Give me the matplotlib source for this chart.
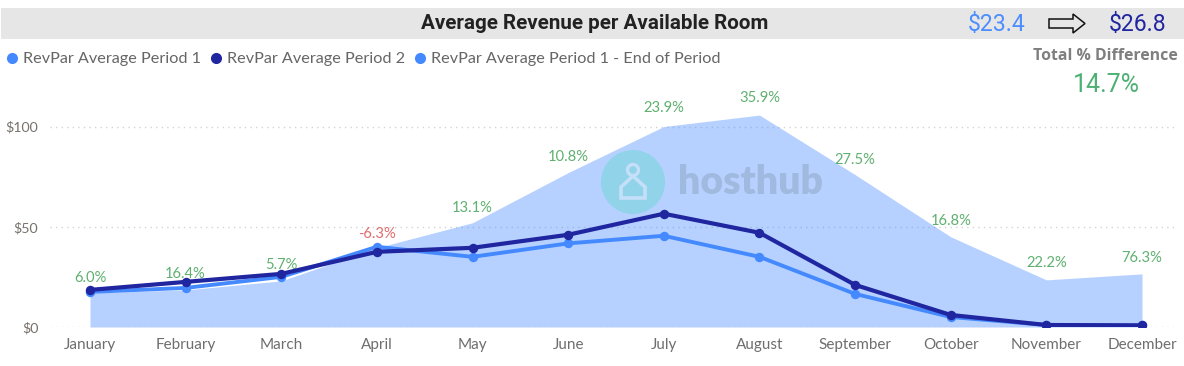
import matplotlib
matplotlib.use("Agg")
import matplotlib.pyplot as plt
from matplotlib.lines import Line2D
from matplotlib.patches import Rectangle, Circle, Polygon

months = ["January", "February", "March", "April", "May", "June", "July",
          "August", "September", "October", "November", "December"]
area_values = [17, 18.5, 23, 39.5, 52, 77, 100, 105.7, 76, 45, 23.5, 26.5]
period1 = [17.5, 19.5, 25, 40, 35, 41.7, 45.5, 35, 16.5, 5, 1, 0.8]
period2 = [18.5, 22.5, 26.5, 37.5, 39.5, 46, 56.5, 47, 21, 6, 1, 0.8]
pct_labels = ["6.0%", "16.4%", "5.7%", "-6.3%", "13.1%", "10.8%", "23.9%",
              "35.9%", "27.5%", "16.8%", "22.2%", "76.3%"]
y_ticks = [0, 50, 100]
y_tick_labels = ["$0", "$50", "$100"]

W, H = 1184, 366
LIGHT, NAVY = "#4589FF", "#2026A0"
GREEN, RED, GREY = "#5FB070", "#E06C6C", "#6E6E6E"
label_gap_px = [12, 8, 9, 13, 15, 16, 18, 17, 15, 16, 17, 16]

fig = plt.figure(figsize=(W / 100, H / 100), dpi=100, facecolor="white")

# chart axes: pixel box is x 50..1178, y 327..126.5 for the $0..$100 range
ax = fig.add_axes([50 / W, (H - 327) / H, (1178 - 50) / W, 230 / H])
ax.set_ylim(0, 230 / 2.005)
x = list(range(len(months)))
step = (1142 - 90) / 11
ax.set_xlim((50 - 90) / step, (1178 - 90) / step)
for s in ax.spines.values():
    s.set_visible(False)
ax.patch.set_alpha(0)

ax.set_yticks(y_ticks, y_tick_labels, fontsize=10.2, color="#77716A", family="Lato")
ax.set_xticks(x, months, fontsize=11, color=GREY, family="Lato")
ax.tick_params(axis="both", length=0)
ax.tick_params(axis="x", pad=8)
ax.tick_params(axis="y", pad=8.5)
ax.grid(axis="y", color="#D4D4D4", linestyle=(0, (1, 3)), linewidth=1, zorder=1)
ax.set_axisbelow(True)

ax.fill_between(x, area_values, 0, color=LIGHT, alpha=0.39, linewidth=0, zorder=2)
ax.plot(x, period1, color=LIGHT, lw=2.8, marker="o", ms=6.8, mew=0, zorder=4)
ax.plot(x, period2, color=NAVY, lw=3.0, marker="o", ms=6.8, mew=0, zorder=5)

for xi, a, p1, p2, lab, gap in zip(x, area_values, period1, period2, pct_labels, label_gap_px):
    ax.annotate(lab, (xi, max(a, p1, p2)), xytext=(0, gap * 0.72), textcoords="offset points",
                ha="center", va="center", fontsize=10.6, family="Lato",
                color=RED if lab.startswith("-") else GREEN, zorder=3)

# overlay in pixel coordinates for header band and watermark
ov = fig.add_axes([0, 0, 1, 1], zorder=6)
ov.set_xlim(0, W)
ov.set_ylim(H, 0)
ov.axis("off")
under = fig.add_axes([0, 0, 1, 1], zorder=-1)
under.set_xlim(0, W)
under.set_ylim(H, 0)
under.axis("off")
under.add_patch(Rectangle((1, 8), W - 1, 30.5, color="#E6E6E6", lw=0))

ov.text(595, 23.5, "Average Revenue per Available Room", ha="center", va="center",
        fontsize=14.9, fontweight="bold", family="Roboto", color="#222222")
ov.text(997, 24.5, "$23.4", ha="center", va="center", fontsize=16.6, family="Roboto", color="#4C8DFF")
ov.text(1138, 24.5, "$26.8", ha="center", va="center", fontsize=16.6, family="Roboto", color=NAVY)
ov.add_patch(Polygon([(1049, 19), (1073, 19), (1073, 14), (1085, 23.5), (1073, 33), (1073, 28), (1049, 28)],
                     closed=True, facecolor="#E6E6E6", edgecolor="#111111", lw=1.1))
ov.text(1105.5, 56, "Total % Difference", ha="center", va="center", fontsize=11.4,
        fontweight="bold", family="Open Sans", color="#7F7F7F")
ov.text(1106, 85.5, "14.7%", ha="center", va="center", fontsize=18, family="Roboto", color="#4DB173")

# watermark
ov.add_patch(Circle((633, 182), 32, facecolor="#91D3E9", edgecolor="none"))
ov.add_patch(Circle((633, 170), 5.5, facecolor="none", edgecolor="#C4DFF8", lw=2.4))
ov.add_patch(Polygon([(621, 187), (633, 176), (645, 187), (645, 198), (621, 198)], closed=True,
                     facecolor="none", edgecolor="#C4DFF8", lw=2.6))
ov.text(750.5, 182, "hosthub", ha="center", va="center", fontsize=28.3, fontweight="heavy",
        family="Lato", color="#A0B9DE")

handles = [Line2D([], [], ls="", marker="o", ms=8, mew=0, color=c) for c in (LIGHT, NAVY, LIGHT)]
leg_labels = ["RevPar Average Period 1", "RevPar Average Period 2", "RevPar Average Period 1 - End of Period"]
fig.legend(handles, leg_labels, ncols=3, loc="center left", bbox_to_anchor=(6 / W, (H - 59) / H),
           frameon=False, handlelength=0.7, handletextpad=0.35, columnspacing=0.55,
           borderpad=0, borderaxespad=0,
           prop={"family": "Lato", "size": 11.7}, labelcolor="#666666")

fig.savefig("out.png", dpi=100)
